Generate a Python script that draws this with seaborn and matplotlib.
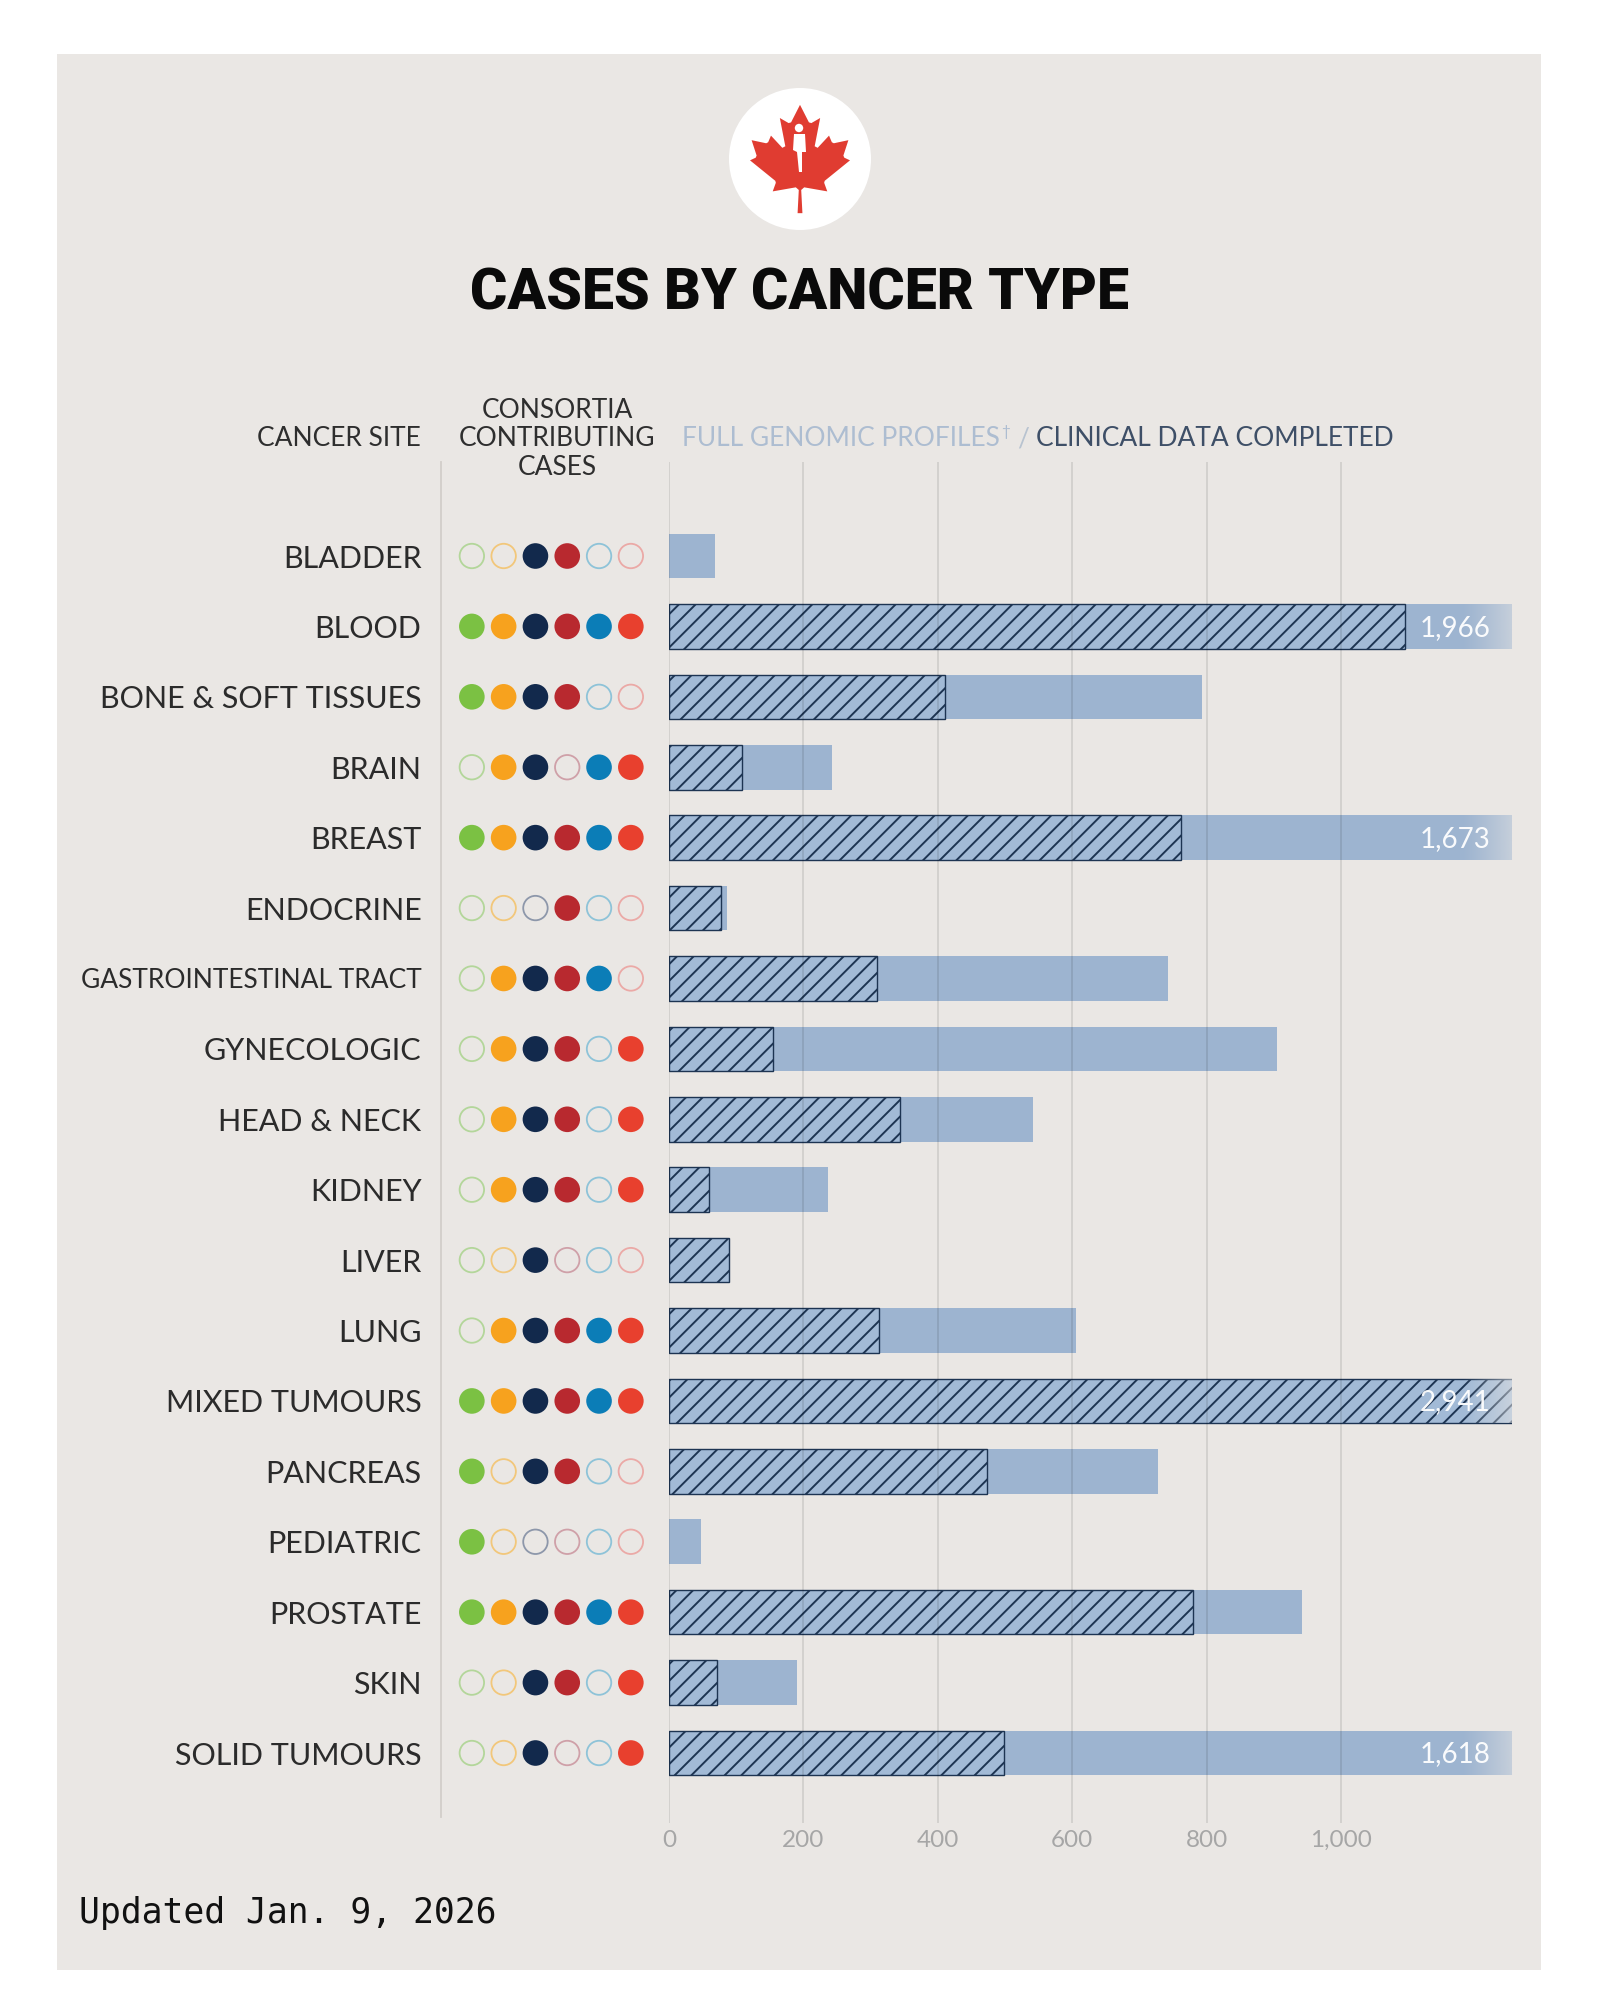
import numpy as np
import pandas as pd
import matplotlib
matplotlib.use("Agg")
import matplotlib.pyplot as plt
import seaborn as sns
from matplotlib.patches import Rectangle, Circle, Polygon
from matplotlib.ticker import FuncFormatter

# ---------------- data ----------------
categories = ["BLADDER", "BLOOD", "BONE & SOFT TISSUES", "BRAIN", "BREAST", "ENDOCRINE",
              "GASTROINTESTINAL TRACT", "GYNECOLOGIC", "HEAD & NECK", "KIDNEY", "LIVER",
              "LUNG", "MIXED TUMOURS", "PANCREAS", "PEDIATRIC", "PROSTATE", "SKIN",
              "SOLID TUMOURS"]
genomic_profiles = [68, 1966, 793, 243, 1673, 86, 743, 905, 542, 236, 90, 605,
                    2941, 728, 48, 941, 190, 1618]
clinical_completed = [0, 1095, 411, 108, 762, 78, 310, 154, 344, 59, 89, 312,
                      2941, 473, 0, 779, 72, 498]
x_ticks = [0, 200, 400, 600, 800, 1000]
consortium_colors = ["#7BC143", "#F7A21E", "#12294C", "#B8292F", "#0B7DB7", "#E8402E"]
consortium_rings = ["#B3D69A", "#F2C77A", "#8D97AA", "#CFA0A8", "#8EC3D8", "#EBA9A6"]
contributing = [
    [0, 0, 1, 1, 0, 0],  # bladder
    [1, 1, 1, 1, 1, 1],  # blood
    [1, 1, 1, 1, 0, 0],  # bone
    [0, 1, 1, 0, 1, 1],  # brain
    [1, 1, 1, 1, 1, 1],  # breast
    [0, 0, 0, 1, 0, 0],  # endocrine
    [0, 1, 1, 1, 1, 0],  # GI
    [0, 1, 1, 1, 0, 1],  # gyn
    [0, 1, 1, 1, 0, 1],  # head & neck
    [0, 1, 1, 1, 0, 1],  # kidney
    [0, 0, 1, 0, 0, 0],  # liver
    [0, 1, 1, 1, 1, 1],  # lung
    [1, 1, 1, 1, 1, 1],  # mixed
    [1, 0, 1, 1, 0, 0],  # pancreas
    [1, 0, 0, 0, 0, 0],  # pediatric
    [1, 1, 1, 1, 1, 1],  # prostate
    [0, 0, 1, 1, 0, 1],  # skin
    [0, 0, 1, 0, 0, 1],  # solid
]

df = pd.DataFrame({"site": categories, "genomic": genomic_profiles,
                   "clinical": clinical_completed})

# ---------------- style ----------------
BG = "#EAE7E4"
LIGHT = "#9DB4D0"
HATCH_FACE = "#A2BAD6"
NAVY = "#1D3452"
sns.set_style("white")
plt.rcParams["font.family"] = ["Lato", "DejaVu Sans"]
plt.rcParams["hatch.linewidth"] = 1.4
plt.rcParams["hatch.color"] = NAVY

W, H = 1600, 2000
fig = plt.figure(figsize=(16, 20), dpi=100, facecolor="white")

# background / decoration axes in pixel coordinates
bg = fig.add_axes([0, 0, 1, 1], zorder=0)
bg.set_xlim(0, W)
bg.set_ylim(H, 0)
bg.axis("off")
bg.add_patch(Rectangle((57, 54), 1484, 1916, facecolor=BG, edgecolor="none"))

# logo
bg.add_patch(Circle((800, 159), 71, facecolor="white", edgecolor="none"))
leaf = np.array([
    (4890, 4430), (4845, 3567), (4956, 3469), (5815, 3620), (5699, 3300), (5719, 3227),
    (6660, 2465), (6448, 2366), (6414, 2287), (6600, 1715), (6058, 1830), (5985, 1792),
    (5880, 1545), (5457, 1999), (5346, 1942), (5550, 890), (5223, 1079), (5132, 1052),
    (4800, 400), (4468, 1052), (4377, 1079), (4050, 890), (4254, 1942), (4143, 1999),
    (3720, 1545), (3615, 1792), (3542, 1830), (3000, 1715), (3186, 2287), (3152, 2366),
    (2940, 2465), (3881, 3227), (3901, 3300), (3785, 3620), (4644, 3469), (4755, 3567),
    (4710, 4430)], dtype=float)
sc = 100 / 3720.0
leaf_px = np.column_stack([(leaf[:, 0] - 4800) * sc + 800, (leaf[:, 1] - 2415) * sc + 159])
bg.add_patch(Polygon(leaf_px, closed=True, facecolor="#E03C31", edgecolor="none"))
# small runner silhouette
bg.add_patch(Circle((799, 128), 4.2, facecolor="white", edgecolor="none"))
bg.add_patch(Polygon([(794, 134), (805, 134), (806, 152), (802, 152), (802, 172),
                      (799, 172), (797, 152), (793, 150)], closed=True,
                     facecolor="white", edgecolor="none"))

# title
bg.text(800, 294, "CASES BY CANCER TYPE", ha="center", va="center", fontsize=41,
        fontweight="black", color="#0A0A0A",
        family=["Roboto", "DejaVu Sans"])

# headers
HDR = 19
bg.text(421, 439, "CANCER SITE", ha="right", va="center", fontsize=HDR, color="#2E2E2E")
bg.text(557, 439, "CONSORTIA\nCONTRIBUTING\nCASES", ha="center", va="center",
        fontsize=HDR, color="#2E2E2E", linespacing=1.18, multialignment="center")

renderer = fig.canvas.get_renderer()
t1 = bg.text(682, 439, "FULL GENOMIC PROFILES", ha="left", va="center",
             fontsize=HDR, color="#ADBDD1")
x = t1.get_window_extent(renderer).x1 + 1
t_d = bg.text(x, 432, "†", ha="left", va="center", fontsize=11, color="#ADBDD1")
x = t_d.get_window_extent(renderer).x1 + 7
t_s = bg.text(x, 439, "/", ha="left", va="center", fontsize=HDR, color="#B8C3D0")
x = t_s.get_window_extent(renderer).x1 + 7
bg.text(x, 439, "CLINICAL DATA COMPLETED", ha="left", va="center",
        fontsize=HDR, color="#3E4F67")

# footer
bg.text(79, 1913, "Updated Jan. 9, 2026", ha="left", va="center", fontsize=25,
        color="#111111", family=["DejaVu Sans Mono"])

# ---------------- axes layout ----------------
top_px, bot_px = 462, 1823
ax_bottom = 1 - bot_px / H
ax_height = (bot_px - top_px) / H
ylim = (17.994, -1.335)
XMAX = 1254

ax = fig.add_axes([669 / W, ax_bottom, (1512 - 669) / W, ax_height], zorder=2)
ax.set_facecolor("none")
ax_d = fig.add_axes([441 / W, ax_bottom, (669 - 441) / W, ax_height], zorder=2)
ax_d.set_facecolor("none")

# ---------------- bars ----------------
BAR_H = 0.633
sns.barplot(data=df, x="genomic", y="site", orient="h", color=LIGHT, saturation=1,
            width=BAR_H, errorbar=None, ax=ax, linewidth=0)
sns.barplot(data=df, x="clinical", y="site", orient="h", color=HATCH_FACE, saturation=1,
            width=BAR_H, errorbar=None, ax=ax)
for p, v in zip(ax.containers[1], clinical_completed):
    p.set_hatch("//")
    p.set_edgecolor(NAVY)
    p.set_linewidth(1.0 if v > 0 else 0)

# fade + labels on bars that run past the axis
fade_start = 1178
grad = np.zeros((1, 64, 4))
rgb = matplotlib.colors.to_rgb(BG)
grad[..., 0], grad[..., 1], grad[..., 2] = rgb
grad[..., 3] = np.linspace(0, 0.6, 64) ** 1.2
for i, v in enumerate(genomic_profiles):
    if v > XMAX:
        ax.imshow(grad, extent=[fade_start, XMAX, i + BAR_H / 2, i - BAR_H / 2],
                  aspect="auto", zorder=3, interpolation="bilinear")
        ax.text(1222, i + 0.02, f"{v:,}", ha="right", va="center", fontsize=20,
                color="white", zorder=5, alpha=0.95)

ax.set_xlim(0, XMAX)
ax.set_ylim(*ylim)
ax.set_xticks(x_ticks)
ax.xaxis.set_major_formatter(FuncFormatter(lambda v, _: f"{int(v):,}"))
ax.tick_params(axis="x", length=0, pad=5, labelsize=17.5, labelcolor="#A6A6A6")
ax.tick_params(axis="y", left=False, labelleft=False)
ax.set_yticks([])
ax.set_xlabel("")
ax.set_ylabel("")
ax.grid(axis="x", color="black", alpha=0.1, linewidth=1.3)
ax.grid(axis="y", visible=False)
ax.set_axisbelow(False)
for s in ax.spines.values():
    s.set_visible(False)

# ---------------- consortia dots ----------------
cols = np.arange(6)
for i, row in enumerate(contributing):
    for j in cols:
        if row[j]:
            ax_d.scatter(j, i, s=340, facecolor=consortium_colors[j], edgecolor="none",
                         zorder=3)
        else:
            ax_d.scatter(j, i, s=310, facecolor="none", edgecolor=consortium_rings[j],
                         linewidth=1.3, zorder=3)
ax_d.set_xlim(-0.97, 6.2)
ax_d.set_ylim(*ylim)
ax_d.set_xticks([])
ax_d.set_yticks(range(len(categories)))
ax_d.set_yticklabels(categories, fontsize=22, color="#2B2B2B")
ax_d.get_yticklabels()[6].set_fontsize(19)
ax_d.tick_params(axis="y", length=0, pad=14)
for k, s in ax_d.spines.items():
    s.set_visible(k == "left")
ax_d.spines["left"].set_color("#D2CECA")
ax_d.spines["left"].set_linewidth(1.3)
ax_d.spines["left"].set_bounds(ylim[0] - 0.09, ylim[1])

fig.savefig("out.png", dpi=100, facecolor="white")
